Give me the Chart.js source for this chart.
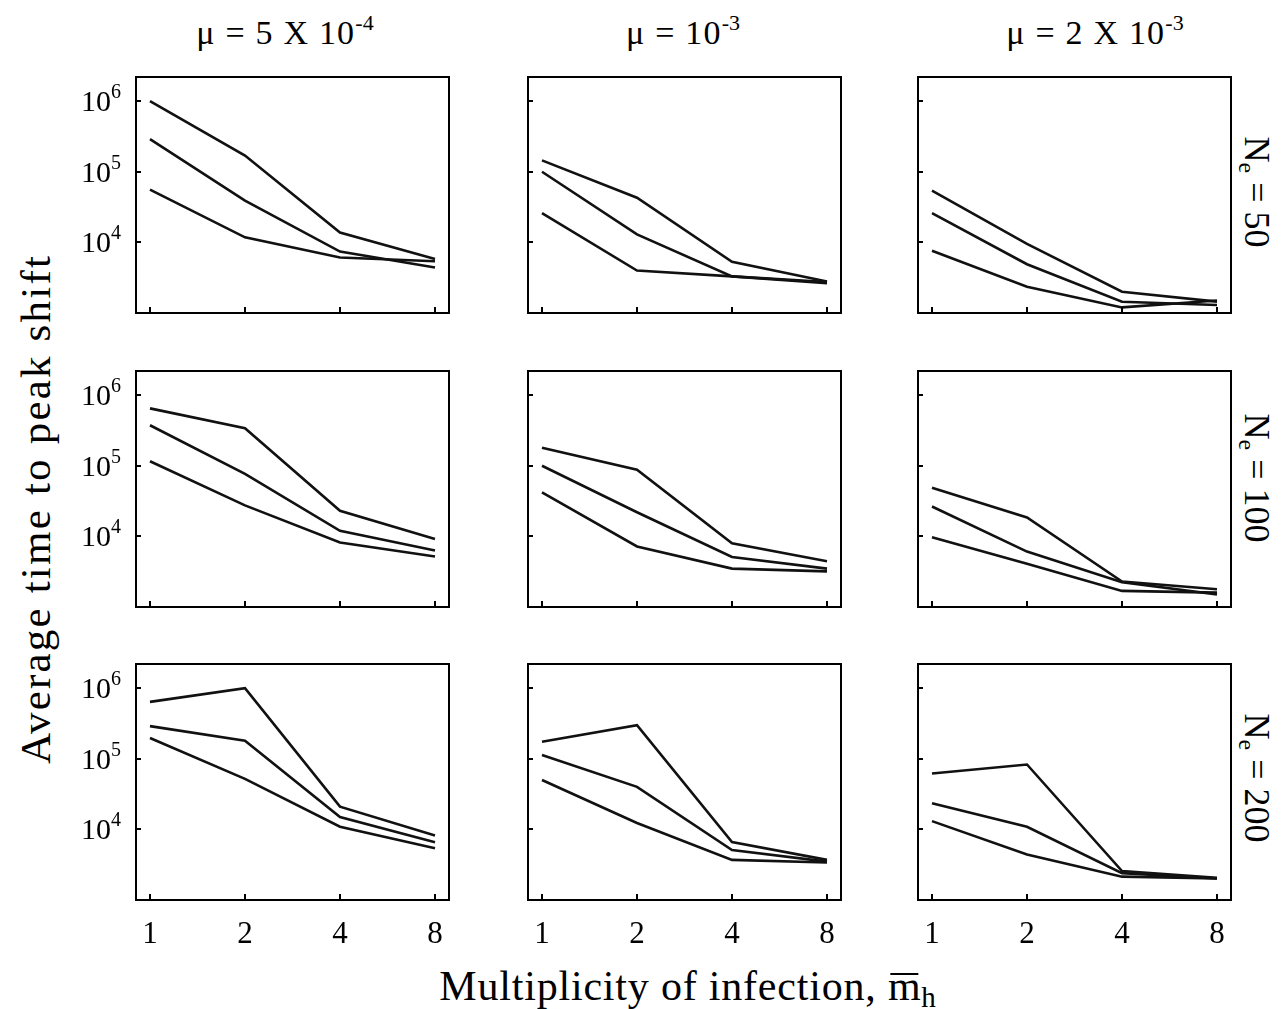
<!doctype html>
<html lang="en">
<head>
<meta charset="utf-8">
<title>Average time to peak shift</title>
<script src="https://cdn.jsdelivr.net/npm/chart.js"></script>
<style>
  body { margin: 0; background: #fff; }
  #page { position: relative; width: 1287px; height: 1009px; overflow: hidden; font-family: "Liberation Serif", "Times New Roman", serif; color: #000; }
  .panel { position: absolute; }
  .title { position: absolute; top: 14px; font-size: 34px; letter-spacing: 1.2px; transform: translateX(-50%); white-space: nowrap; }
  .title sup { font-size: 22px; vertical-align: 14px; line-height: 0; letter-spacing: 0; }
  .rowlab { position: absolute; font-size: 36px; white-space: nowrap; transform: translate(-50%, -50%) rotate(90deg); }
  .rowlab sub { font-size: 24px; vertical-align: -6px; line-height: 0; }
  #ylab { position: absolute; left: 35px; top: 509px; font-size: 43px; letter-spacing: 2.2px; white-space: nowrap; transform: translate(-50%, -50%) rotate(-90deg); }
  #xlab { position: absolute; left: 688px; top: 986px; font-size: 42px; letter-spacing: 0.8px; white-space: nowrap; transform: translate(-50%, -50%); }
  #xlab .mbar { position: relative; }
  #xlab .mbar::before { content: ''; position: absolute; left: 2px; right: 3px; top: 0.24em; border-top: 2px solid #000; }
  #xlab sub { font-size: 29px; vertical-align: -7px; line-height: 0; }
</style>
</head>
<body>
<div id="page">
  <div class="title" style="left: 285px;">&mu; = 5 X 10<sup>-4</sup></div>
  <div class="title" style="left: 683px;">&mu; = 10<sup>-3</sup></div>
  <div class="title" style="left: 1095px;">&mu; = 2 X 10<sup>-3</sup></div>

  <div class="rowlab" style="left: 1257px; top: 192px;">N<sub>e</sub> = 50</div>
  <div class="rowlab" style="left: 1257px; top: 478px;">N<sub>e</sub> = 100</div>
  <div class="rowlab" style="left: 1257px; top: 778px;">N<sub>e</sub> = 200</div>

  <div id="ylab">Average time to peak shift</div>
  <div id="xlab">Multiplicity of infection, <span class="mbar">m</span><sub>h</sub></div>
</div>

<script>
  // multiplicity of infection (x) and decade ticks (y)
  const xTicks = [1, 2, 4, 8];
  const yTicks = [1e4, 1e5, 1e6];

  // each panel: upper, middle, lower curve at m = 1, 2, 4, 8
  const ne50_mu5e4 = [[1.0e6, 1.7e5, 1.38e4, 5.8e3], [2.9e5, 3.9e4, 7.4e3, 4.4e3], [5.6e4, 1.18e4, 6.1e3, 5.4e3]];
  const ne50_mu1e3 = [[1.45e5, 4.3e4, 5.3e3, 2.8e3], [1.0e5, 1.3e4, 3.3e3, 2.75e3], [2.6e4, 4.0e3, 3.3e3, 2.65e3]];
  const ne50_mu2e3 = [[5.4e4, 9.5e3, 2.0e3, 1.45e3], [2.6e4, 4.9e3, 1.44e3, 1.3e3], [7.6e3, 2.35e3, 1.2e3, 1.5e3]];
  const ne100_mu5e4 = [[6.5e5, 3.4e5, 2.3e4, 9.2e3], [3.75e5, 7.7e4, 1.2e4, 6.3e3], [1.16e5, 2.75e4, 8.2e3, 5.2e3]];
  const ne100_mu1e3 = [[1.8e5, 8.8e4, 8.0e3, 4.45e3], [1.0e5, 2.2e4, 5.1e3, 3.5e3], [4.2e4, 7.2e3, 3.5e3, 3.2e3]];
  const ne100_mu2e3 = [[4.9e4, 1.85e4, 2.3e3, 1.78e3], [2.65e4, 6.1e3, 2.25e3, 1.5e3], [9.7e3, 4.1e3, 1.69e3, 1.6e3]];
  const ne200_mu5e4 = [[6.4e5, 1.0e6, 2.1e4, 8.2e3], [2.9e5, 1.8e5, 1.5e4, 6.6e3], [1.97e5, 5.2e4, 1.09e4, 5.4e3]];
  const ne200_mu1e3 = [[1.74e5, 3.0e5, 6.6e3, 3.7e3], [1.13e5, 4.0e4, 5.1e3, 3.5e3], [5.0e4, 1.23e4, 3.7e3, 3.4e3]];
  const ne200_mu2e3 = [[6.2e4, 8.3e4, 2.57e3, 2.07e3], [2.35e4, 1.09e4, 2.4e3, 2.02e3], [1.31e4, 4.4e3, 2.14e3, 2.02e3]];

  const panels = [
    [ne50_mu5e4, ne50_mu1e3, ne50_mu2e3],
    [ne100_mu5e4, ne100_mu1e3, ne100_mu2e3],
    [ne200_mu5e4, ne200_mu1e3, ne200_mu2e3]
  ];

  // panel boxes on the page
  const boxLeft = [136, 528, 918];
  const boxTop = [77, 371, 664];
  const boxW = 313, boxH = 236;
  const padL = 80, padT = 6, padR = 6, padB = 50;

  const frame = {
    id: 'frame',
    afterDraw(chart, args, opts) {
      const { ctx, chartArea: a, scales: { x, y } } = chart;
      ctx.save();
      ctx.strokeStyle = '#000';
      ctx.lineWidth = 2;
      ctx.strokeRect(a.left, a.top, a.right - a.left, a.bottom - a.top);
      ctx.beginPath();
      xTicks.forEach(v => {
        const px = Math.round(x.getPixelForValue(v));
        ctx.moveTo(px, a.bottom);
        ctx.lineTo(px, a.bottom - 6);
      });
      yTicks.forEach(v => {
        const py = Math.round(y.getPixelForValue(v));
        ctx.moveTo(a.left, py);
        ctx.lineTo(a.left + 5, py);
      });
      ctx.stroke();
      if (opts.yLabels) {
        ctx.fillStyle = '#000';
        ctx.textBaseline = 'alphabetic';
        ctx.textAlign = 'right';
        yTicks.forEach(v => {
          const py = y.getPixelForValue(v);
          const exp = String(Math.round(Math.log10(v)));
          ctx.font = '20px "Liberation Serif", serif';
          const ew = ctx.measureText(exp).width;
          const right = a.left - 15;
          ctx.fillText(exp, right, py - 3);
          ctx.font = '30px "Liberation Serif", serif';
          ctx.fillText('10', right - ew, py + 10);
        });
      }
      ctx.restore();
    }
  };

  const page = document.getElementById('page');

  panels.forEach((row, r) => {
    row.forEach((series, c) => {
      const canvas = document.createElement('canvas');
      canvas.className = 'panel';
      const w = padL + boxW + padR, h = padT + boxH + padB;
      canvas.width = w;
      canvas.height = h;
      canvas.style.width = w + 'px';
      canvas.style.height = h + 'px';
      canvas.style.left = (boxLeft[c] - padL) + 'px';
      canvas.style.top = (boxTop[r] - padT) + 'px';
      page.appendChild(canvas);

      new Chart(canvas, {
        type: 'line',
        data: {
          datasets: series.map(vals => ({
            data: xTicks.map((m, i) => ({ x: m, y: vals[i] })),
            borderColor: '#111',
            borderWidth: 2.6,
            pointRadius: 0,
            tension: 0,
            fill: false
          }))
        },
        options: {
          responsive: false,
          animation: false,
          layout: { padding: { top: padT, right: padR, left: 0, bottom: 0 } },
          plugins: {
            legend: { display: false },
            tooltip: { enabled: false },
            frame: { yLabels: c === 0 }
          },
          scales: {
            x: {
              type: 'logarithmic',
              bounds: 'data',
              min: 0.903,
              max: 8.86,
              grid: { display: false },
              border: { display: false },
              afterBuildTicks: s => { s.ticks = xTicks.map(v => ({ value: v })); },
              afterFit: s => { s.height = padB; },
              ticks: {
                display: r === 2,
                callback: v => String(v),
                color: '#000',
                padding: 8,
                maxRotation: 0,
                font: { family: '"Liberation Serif", serif', size: 31 }
              }
            },
            y: {
              type: 'logarithmic',
              bounds: 'data',
              min: 1000,
              max: 2.2e6,
              grid: { display: false },
              border: { display: false },
              afterBuildTicks: s => { s.ticks = yTicks.map(v => ({ value: v })); },
              afterFit: s => { s.width = padL; },
              ticks: { display: false }
            }
          }
        },
        plugins: [frame]
      });
    });
  });
</script>
</body>
</html>
